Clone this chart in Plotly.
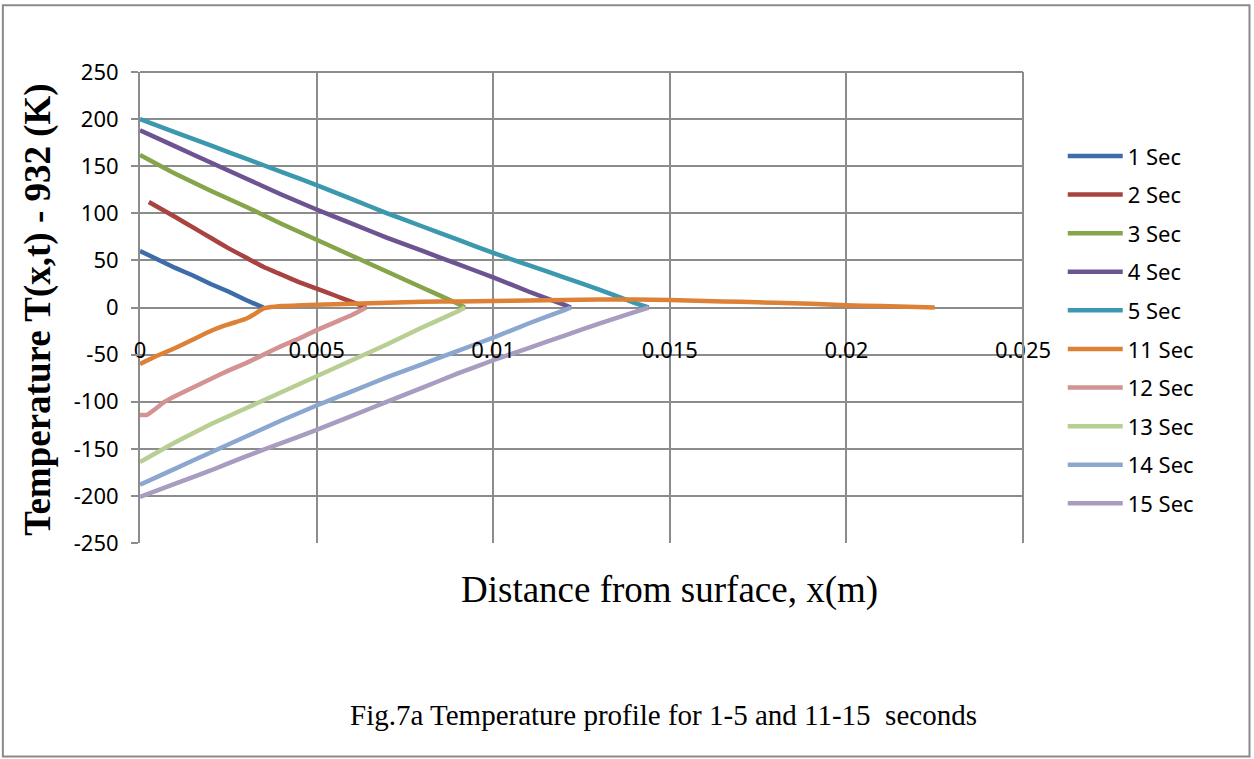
import plotly.graph_objects as go

# ---------------- data ----------------
x_ticks = [0, 0.005, 0.01, 0.015, 0.02, 0.025]
x_tick_text = ["0", "0.005", "0.01", "0.015", "0.02", "0.025"]
y_ticks = [-250, -200, -150, -100, -50, 0, 50, 100, 150, 200, 250]
y_tick_text = ["-250", "-200", "-150", "-100", "-50", "0", "50", "100", "150", "200", "250"]

s1_x = [0, 0.0005, 0.001, 0.0015, 0.002, 0.0025, 0.003, 0.0035]
s1_y = [60, 51, 42, 34, 25, 17, 8, 0]

s2_x = [0.00025, 0.001, 0.0015, 0.002, 0.0025, 0.003, 0.0035, 0.004, 0.0045, 0.005, 0.0055, 0.006, 0.0064]
s2_y = [112, 96, 85, 74, 63, 53, 43, 35, 27, 20, 13, 6, 0]

s3_x = [0, 0.001, 0.002, 0.003, 0.004, 0.005, 0.006, 0.007, 0.008, 0.009, 0.0092]
s3_y = [162, 142, 124, 107, 89, 72, 55, 38, 21, 4, 0]

s4_x = [0, 0.001, 0.002, 0.003, 0.004, 0.005, 0.006, 0.007, 0.008, 0.009, 0.01, 0.011, 0.012, 0.0122]
s4_y = [188, 171, 154, 137, 120, 104, 89, 74, 60, 46, 32, 17, 3, 0]

s5_x = [0, 0.001, 0.002, 0.003, 0.004, 0.005, 0.006, 0.007, 0.008, 0.009, 0.01, 0.011, 0.012, 0.013, 0.014, 0.0144]
s5_y = [200, 186, 172, 158, 144, 130, 115, 100, 86, 72, 58, 45, 32, 19, 5, 0]

s11_x = [0, 0.0005, 0.001, 0.0015, 0.002, 0.0025, 0.003, 0.0032, 0.0035, 0.004, 0.005, 0.006, 0.007,
         0.008, 0.009, 0.01, 0.011, 0.012, 0.013, 0.014, 0.015, 0.016, 0.017, 0.018, 0.019, 0.02,
         0.021, 0.022, 0.0225]
s11_y = [-60, -51, -43, -34, -25, -18, -12, -8, -1, 1.5, 3, 4, 5, 6, 6.5, 7, 7.5, 8, 8.5, 8.5, 8,
         7, 6, 5, 4, 2.5, 1.5, 0.5, 0]

s12_x = [0, 0.0002, 0.0007, 0.001, 0.0015, 0.002, 0.0025, 0.003, 0.0035, 0.004, 0.0045, 0.005, 0.0055, 0.006, 0.0064]
s12_y = [-114, -114, -100, -94, -85, -76, -67, -59, -50, -41, -33, -24, -16, -8, 0]

s13_x = [0, 0.001, 0.002, 0.003, 0.004, 0.005, 0.006, 0.007, 0.008, 0.009, 0.0092]
s13_y = [-164, -143, -124, -107, -90, -73, -56, -39, -21, -4, 0]

s14_x = [0, 0.001, 0.002, 0.003, 0.004, 0.005, 0.006, 0.007, 0.008, 0.009, 0.01, 0.011, 0.012, 0.0122]
s14_y = [-188, -171, -154, -137, -120, -104, -89, -74, -60, -46, -32, -17, -3, 0]

s15_x = [0, 0.001, 0.002, 0.003, 0.004, 0.005, 0.006, 0.007, 0.008, 0.009, 0.01, 0.011, 0.012, 0.013, 0.014, 0.0144]
s15_y = [-201, -187, -173, -158, -144, -130, -115, -100, -85, -70, -56, -43, -30, -17, -5, 0]

series_names = ["1 Sec", "2 Sec", "3 Sec", "4 Sec", "5 Sec", "11 Sec", "12 Sec", "13 Sec", "14 Sec", "15 Sec"]
series_x = [s1_x, s2_x, s3_x, s4_x, s5_x, s11_x, s12_x, s13_x, s14_x, s15_x]
series_y = [s1_y, s2_y, s3_y, s4_y, s5_y, s11_y, s12_y, s13_y, s14_y, s15_y]
colors = ["#3E6CA8", "#A8433F", "#86A44A", "#6C5391", "#3B98AF",
          "#DD8137", "#D39392", "#B8CE93", "#8CA7CF", "#A89CC0"]

# ---------------- figure ----------------
fig = go.Figure()
for i, (nm, xs, ys, c) in enumerate(zip(series_names, series_x, series_y, colors)):
    fig.add_trace(go.Scatter(x=xs, y=ys, mode="lines", name=nm, legendgroup=nm,
                             line=dict(color=c, width=4.5, shape="spline", smoothing=0.3)))

grid_col = "#8C8C8C"
tick_font = dict(family="Noto Sans", size=22, color="#000000")

fig.update_layout(
    width=1254, height=759,
    margin=dict(l=140, r=231, t=72, b=216),
    paper_bgcolor="white", plot_bgcolor="white",
    showlegend=True,
    legend=dict(x=1.045, xanchor="left", y=0.453, yanchor="middle",
                font=dict(family="Noto Sans", size=22, color="#000000"),
                traceorder="grouped", tracegroupgap=7, itemwidth=55,
                bgcolor="rgba(0,0,0,0)"),
    xaxis=dict(range=[0, 0.025], tickvals=x_ticks, ticktext=x_tick_text,
               showgrid=True, gridcolor=grid_col, gridwidth=2,
               zeroline=False, showline=False, ticks="",
               anchor="free", position=0.5, ticklabelstandoff=27,
               tickfont=tick_font),
    yaxis=dict(range=[-250, 250], tickvals=y_ticks, ticktext=y_tick_text,
               showgrid=True, gridcolor=grid_col, gridwidth=2,
               zeroline=False, showline=True, linecolor=grid_col, linewidth=2,
               ticks="outside", ticklen=7, tickcolor=grid_col, tickwidth=2,
               ticklabelstandoff=8, tickfont=tick_font),
    annotations=[
        dict(text="<b>Temperature T(x,t) - 932 (K)</b>", xref="paper", yref="paper",
             x=-0.1155, y=0.495, xanchor="center", yanchor="middle", textangle=-90, showarrow=False,
             font=dict(family="Liberation Serif", size=37, color="#000000")),
        dict(text="Distance from surface, x(m)", xref="paper", yref="paper",
             x=0.6, y=-0.10, yanchor="middle", showarrow=False,
             font=dict(family="Liberation Serif", size=37, color="#000000")),
        dict(text="Fig.7a Temperature profile for 1-5 and 11-15  seconds", xref="paper", yref="paper",
             x=0.593, y=-0.365, yanchor="middle", showarrow=False,
             font=dict(family="Liberation Serif", size=29, color="#000000")),
    ],
    shapes=[
        dict(type="rect", xref="paper", yref="paper",
             x0=-0.1553, x1=1.2565, y0=-0.4532, y1=1.1418,
             line=dict(color="#8A8A8A", width=2), fillcolor="rgba(0,0,0,0)", layer="below"),
        dict(type="line", xref="paper", yref="paper", x0=1, x1=1, y0=0, y1=1,
             line=dict(color=grid_col, width=2)),
        dict(type="line", xref="paper", yref="paper", x0=0, x1=1, y0=1, y1=1,
             line=dict(color=grid_col, width=2), layer="below"),
    ],
)

fig.write_html("out.html")
